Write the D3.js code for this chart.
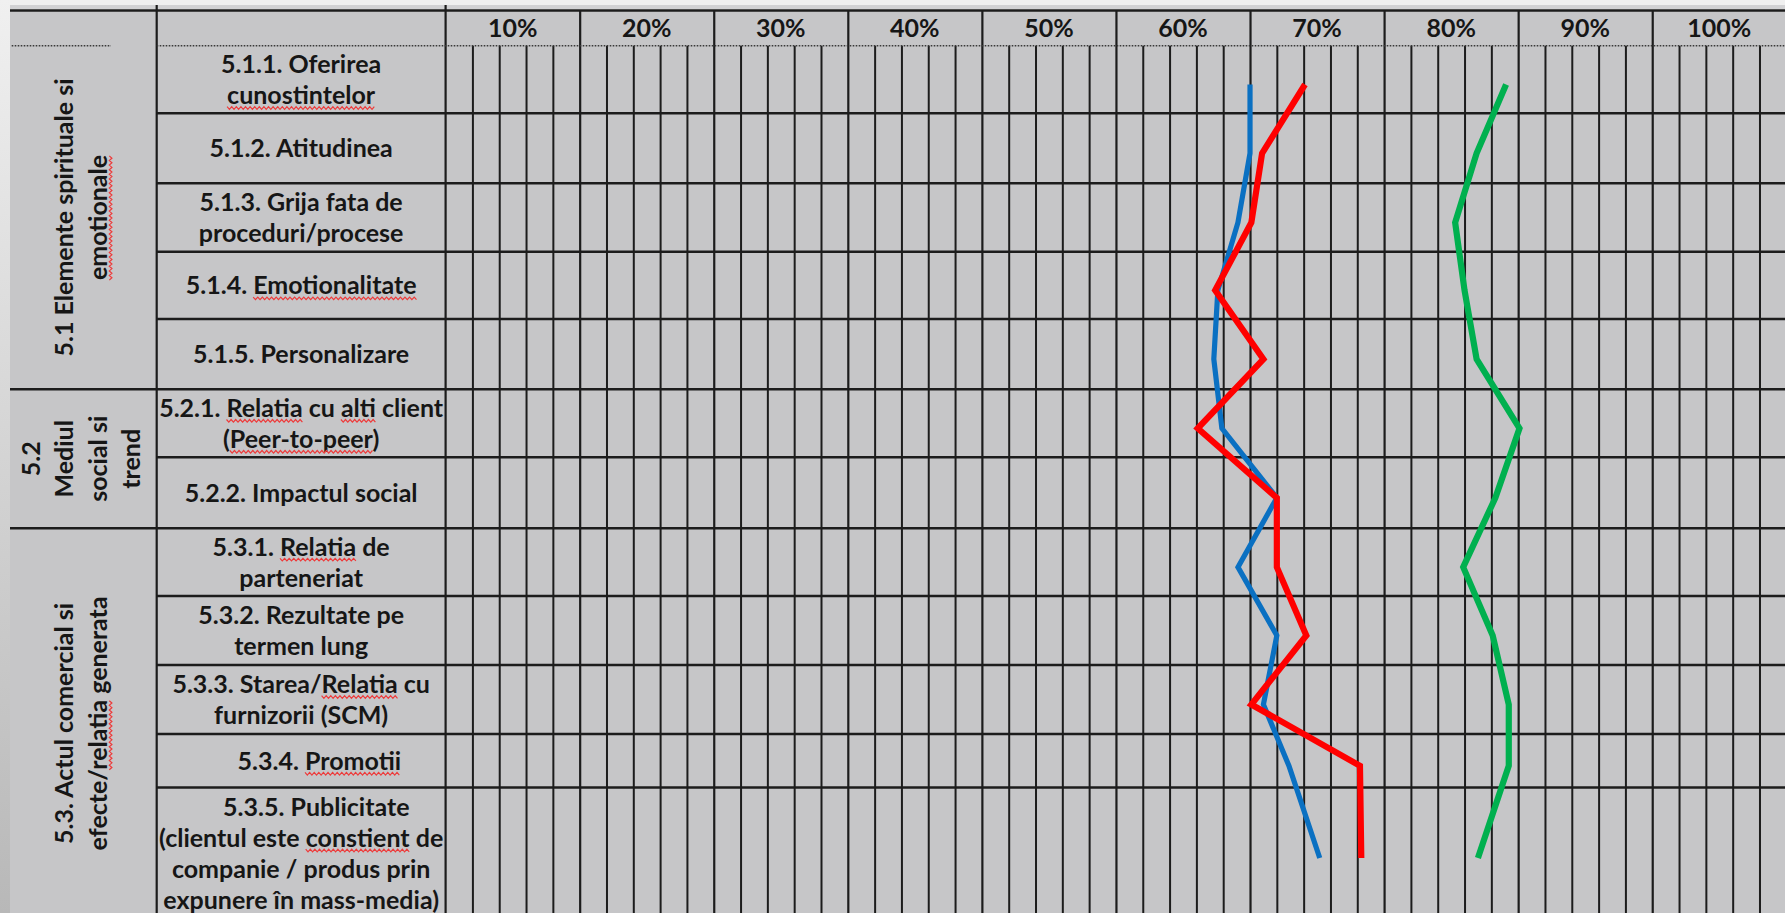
<!DOCTYPE html>
<html>
<head>
<meta charset="utf-8">
<script src="https://cdn.jsdelivr.net/npm/d3@7"></script>
<style>
  html, body { margin: 0; padding: 0; background: #f0f0f0; overflow: hidden; }
  svg { display: block; }
  text { font-family: Lato, "Noto Sans", sans-serif; font-weight: 700; fill: #161616; }
</style>
</head>
<body>
<svg id="chart" width="1785" height="913"></svg>
<script>
// ---- Data -------------------------------------------------------------
const tickLabels = ["10%", "20%", "30%", "40%", "50%", "60%", "70%", "80%", "90%", "100%"];

const rowLabels = [
  ["5.1.1. Oferirea", "cunostintelor"],
  ["5.1.2. Atitudinea"],
  ["5.1.3. Grija fata de", "proceduri/procese"],
  ["5.1.4. Emotionalitate"],
  ["5.1.5. Personalizare"],
  ["5.2.1. Relatia cu alti client", "(Peer-to-peer)"],
  ["5.2.2. Impactul social"],
  ["5.3.1. Relatia de", "parteneriat"],
  ["5.3.2. Rezultate pe", "termen lung"],
  ["5.3.3. Starea/Relatia cu", "furnizorii (SCM)"],
  ["\u00a0\u00a0\u00a0\u00a0\u00a0\u00a05.3.4. Promotii"],
  ["\u00a0\u00a0\u00a0\u00a0\u00a05.3.5. Publicitate", "(clientul este constient de", "companie / produs prin", "expunere în mass-media)"]
];

const groupLabels = [
  ["5.1 Elemente spirituale si", "emotionale"],
  ["5.2", "Mediul", "social si", "trend"],
  ["5.3. Actul comercial si", "efecte/relatia generata"]
];
const groupRowCounts = [5, 2, 5];

// percentage per row, top to bottom
const seriesBlue  = [60.0, 60.0, 59.1, 57.6, 57.3, 57.9, 62.0, 59.1, 62.0, 61.0, 62.9, 65.2];
const seriesRed   = [64.1, 60.9, 60.1, 57.4, 61.0, 56.1, 62.0, 62.0, 64.2, 60.1, 68.2, 68.3];
const seriesGreen = [79.1, 76.9, 75.3, 76.0, 76.9, 80.1, 78.3, 75.9, 78.1, 79.3, 79.3, 77.0];

// words carrying the spell-check underline
const flaggedWords = ["cunostintelor", "Emotionalitate", "Relatia", "alti", "Peer-to-peer",
                      "Promotii", "constient", "emotionale", "relatia"];

// ---- Layout -----------------------------------------------------------
const W = 1785, H = 913;
const tableLeft = 10, tableTop = 10.5, headerBottom = 45.7;
const groupColRight = 156.7, labelColRight = 445.6, plotRight = 1786.3;
const rowHeights = [67.6, 70, 68.4, 67.3, 70.3, 68, 71, 67.7, 69, 69, 53.5, 131];
const fontSize = 25, capHalf = 9, rowLineHeight = 31, groupLineHeight = 33.5;
const markOffset = 5;               // line vertices sit a little below row middles
const gridColor = "#1c1c1c";

const rowTops = [];
rowHeights.reduce((acc, h) => { rowTops.push(acc); return acc + h; }, headerBottom);
const rowBottoms = rowTops.map((t, i) => t + rowHeights[i]);
const rowY = d3.scaleOrdinal()
  .domain(d3.range(rowLabels.length))
  .range(rowTops.map((t, i) => t + rowHeights[i] / 2));

const x = d3.scaleLinear().domain([0, 100]).range([labelColRight, plotRight]);
const colBand = d3.scaleBand().domain(tickLabels).range([labelColRight, plotRight]);

const svg = d3.select("#chart");

function draw() {
  // page edges
  const defs = svg.append("defs");
  const grad = defs.append("linearGradient").attr("id", "edge").attr("x1", 0).attr("y1", 0).attr("x2", 0).attr("y2", 1);
  grad.append("stop").attr("offset", 0).attr("stop-color", "#f0f0f0");
  grad.append("stop").attr("offset", 1).attr("stop-color", "#b8b8b8");
  svg.append("rect").attr("width", W).attr("height", H).attr("fill", "#f0f0f0");
  svg.append("rect").attr("x", 0).attr("y", 0).attr("width", tableLeft).attr("height", H).attr("fill", "url(#edge)");
  svg.append("rect").attr("x", tableLeft).attr("y", 5).attr("width", W).attr("height", 4).attr("fill", "#d2d2d4");

  // table body
  svg.append("rect").attr("x", tableLeft).attr("y", tableTop).attr("width", W - tableLeft).attr("height", H - tableTop)
    .attr("fill", "#c6c6c8");

  // minor grid (every 2%)
  svg.append("g")
    .attr("transform", `translate(0,${headerBottom})`)
    .call(d3.axisBottom(x).tickValues(d3.range(2, 100, 2).filter(v => v % 10 !== 0)).tickSize(H).tickFormat(""))
    .call(g => g.select(".domain").remove())
    .selectAll("line").attr("stroke", gridColor).attr("stroke-width", 2);

  // major grid (every 10%)
  svg.append("g")
    .attr("transform", `translate(0,${tableTop})`)
    .call(d3.axisBottom(x).tickValues(d3.range(10, 100, 10)).tickSize(H).tickFormat(""))
    .call(g => g.select(".domain").remove())
    .selectAll("line").attr("stroke", gridColor).attr("stroke-width", 2.2);

  // column separators of the label area
  svg.append("g").selectAll("line").data([groupColRight, labelColRight]).join("line")
    .attr("x1", d => d).attr("x2", d => d).attr("y1", 5).attr("y2", H)
    .attr("stroke", gridColor).attr("stroke-width", 2.2);

  // header dotted rule
  svg.append("g").selectAll("line").data([[11.7, 111], [groupColRight, W]]).join("line")
    .attr("x1", d => d[0]).attr("x2", d => d[1]).attr("y1", headerBottom).attr("y2", headerBottom)
    .attr("stroke", "#3a3a3a").attr("stroke-width", 1.6).attr("stroke-dasharray", "1.6 1.4");

  // top rule
  svg.append("line").attr("x1", tableLeft).attr("x2", W).attr("y1", tableTop).attr("y2", tableTop)
    .attr("stroke", gridColor).attr("stroke-width", 2.6);

  // row rules: full width at group ends, label+plot width otherwise
  const groupEnds = d3.cumsum(groupRowCounts).map(c => c - 1);
  svg.append("g").selectAll("line").data(rowBottoms.slice(0, -1)).join("line")
    .attr("x1", (d, i) => groupEnds.includes(i) ? tableLeft : groupColRight)
    .attr("x2", W)
    .attr("y1", d => d).attr("y2", d => d)
    .attr("stroke", gridColor).attr("stroke-width", 2.6);

  // header percentage labels
  svg.append("g")
    .attr("transform", "translate(0,36.5)")
    .call(d3.axisTop(colBand).tickSize(0).tickPadding(0))
    .call(g => g.select(".domain").remove())
    .selectAll("text")
    .attr("font-size", fontSize).attr("font-family", null).attr("fill", "#161616");

  // text with spell-check underlines
  function squiggle(x0, x1, y) {
    const pts = [];
    for (let px = x0, k = 0; px <= x1; px += 2.3, k++) pts.push([px, y + (k % 2 ? 1.3 : -1.3)]);
    return d3.line()(pts);
  }
  function writeLines(g, lines, cx, firstBaseline, lineHeight) {
    lines.forEach((line, i) => {
      const y = firstBaseline + i * lineHeight;
      const t = g.append("text")
        .attr("x", cx).attr("y", y)
        .attr("text-anchor", "middle")
        .attr("font-size", fontSize)
        .text(line);
      const node = t.node();
      flaggedWords.forEach(w => {
        let from = 0, idx;
        while ((idx = line.indexOf(w, from)) !== -1) {
          const before = idx === 0 ? " " : line[idx - 1];
          const after = idx + w.length >= line.length ? " " : line[idx + w.length];
          if (!/[A-Za-z]/.test(before) && !/[A-Za-z]/.test(after)) {
            const x0 = node.getStartPositionOfChar(idx).x;
            const x1 = node.getEndPositionOfChar(idx + w.length - 1).x;
            g.append("path").attr("d", squiggle(x0, x1, y + 4))
              .attr("fill", "none").attr("stroke", "#ee3a3a").attr("stroke-width", 1.2);
          }
          from = idx + w.length;
        }
      });
    });
  }

  // row labels
  const labelCx = (groupColRight + labelColRight) / 2;
  const rowText = svg.append("g");
  rowLabels.forEach((lines, i) => {
    const first = rowY(i) - (lines.length - 1) * rowLineHeight / 2 + capHalf;
    writeLines(rowText, lines, labelCx, first, rowLineHeight);
  });

  // rotated group labels
  const groupCx = (tableLeft + groupColRight) / 2 - 2.5;
  let startRow = 0;
  groupLabels.forEach((lines, gi) => {
    const endRow = startRow + groupRowCounts[gi] - 1;
    const cy = (rowTops[startRow] + rowBottoms[endRow]) / 2;
    const g = svg.append("g").attr("transform", `translate(${groupCx},${cy}) rotate(-90)`);
    const first = -(lines.length - 1) * groupLineHeight / 2 + capHalf;
    writeLines(g, lines, 0, first, groupLineHeight);
    startRow = endRow + 1;
  });

  // data lines
  const line = d3.line().x(d => x(d)).y((d, i) => rowY(i) + markOffset).curve(d3.curveLinear);
  const series = [
    { values: seriesBlue,  color: "#0a70c2", width: 5.2 },
    { values: seriesRed,   color: "#ff0000", width: 6.2 },
    { values: seriesGreen, color: "#00b04f", width: 6.2 }
  ];
  svg.append("g").selectAll("path").data(series).join("path")
    .attr("d", d => line(d.values))
    .attr("fill", "none")
    .attr("stroke", d => d.color)
    .attr("stroke-width", d => d.width)
    .attr("stroke-linejoin", "miter");
}

if (document.fonts && document.fonts.ready) {
  document.fonts.ready.then(draw);
} else {
  draw();
}
</script>
</body>
</html>
